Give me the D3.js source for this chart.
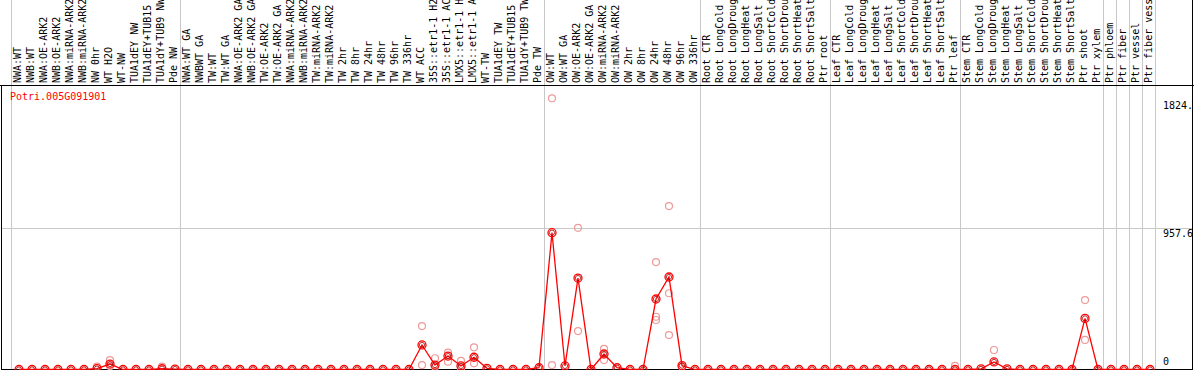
<!doctype html>
<html>
<head>
<meta charset="UTF-8">
<title>Potri.005G091901</title>
<script src="https://d3js.org/d3.v7.min.js"></script>
<style>
body{margin:0;background:#fff;}
svg{display:block;}
text{font-family:"DejaVu Sans Mono",monospace;font-size:10px;}
</style>
</head>
<body>
<script>
var geneName = "Potri.005G091901";

var categories = [
  "NWA:WT","NWB:WT","NWA:OE-ARK2","NWB:OE-ARK2","NWA:miRNA-ARK2","NWB:miRNA-ARK2","NW 0hr","WT H2O","WT-NW",
  "TUA1dEY NW","TUA1dEY+TUB15 NW","TUA1dY+TUB9 NW","Pde NW",
  "NWA:WT GA","NWBWT GA","TW:WT","TW:WT GA","NWA:OE-ARK2 GA","NWB:OE-ARK2 GA","TW:OE-ARK2","TW:OE-ARK2 GA",
  "NWA:miRNA-ARK2","NWB:miRNA-ARK2","TW:miRNA-ARK2","TW:miRNA-ARK2","TW 2hr","TW 8hr","TW 24hr","TW 48hr",
  "TW 96hr","TW 336hr","WT ACC","35S::etr1-1 H2O","35S::etr1-1 ACC","LMX5::etr1-1 H2O","LMX5::etr1-1 ACC",
  "WT-TW","TUA1dEY TW","TUA1dEY+TUB15 TW","TUA1dY+TUB9 TW","Pde TW",
  "OW:WT","OW:WT GA","OW:OE-ARK2","OW:OE-ARK2 GA","OW:miRNA-ARK2","OW:miRNA-ARK2","OW 2hr","OW 8hr",
  "OW 24hr","OW 48hr","OW 96hr","OW 336hr",
  "Root CTR","Root LongCold","Root LongDrought","Root LongHeat","Root LongSalt","Root ShortCold",
  "Root ShortDrought","Root ShortHeat","Root ShortSalt","Ptr root",
  "Leaf CTR","Leaf LongCold","Leaf LongDrought","Leaf LongHeat","Leaf LongSalt","Leaf ShortCold",
  "Leaf ShortDrought","Leaf ShortHeat","Leaf ShortSalt","Ptr leaf",
  "Stem CTR","Stem LongCold","Stem LongDrought","Stem LongHeat","Stem LongSalt","Stem ShortCold",
  "Stem ShortDrought","Stem ShortHeat","Stem ShortSalt","Ptr shoot","Ptr xylem",
  "Ptr phloem","Ptr fiber","Ptr vessel","Ptr fiber vessel"
];

// mean expression per sample
var expression = [
  0, 0, 0, 0, 0, 0, 6, 37, 0, 0, 0, 5, 3,
  0, 0, 0, 0, 0, 0, 0, 0, 0, 0, 0, 0, 0, 0, 0, 0, 0, 0,
  166, 30, 91, 24, 83, 8, 0, 0, 0, 12,
  926, 24, 619, 0, 105, 12, 0, 0, 477, 626, 26, 0,
  0, 0, 0, 0, 0, 0, 0, 0, 0, 0,
  0, 0, 0, 0, 0, 0, 0, 0, 0, 0,
  0, 4, 51, 4, 0, 0, 0, 0, 0, 346, 0,
  0, 0, 0, 0
];

// replicate values (sample index -> values)
var repIndex  = [6, 7, 11, 31, 32, 33, 34, 35, 41, 43, 45, 49, 50, 51, 72, 75, 82];
var repValues = [
  [20], [64, 24], [20], [294, 30], [76, 20], [114, 53], [58, 10], [150, 42],
  [1835, 30], [959, 260], [139, 64], [727, 357, 335], [1106, 516, 233], [20], [24], [132], [470, 200]
];

var yTicks = [0, 957.6, 1824];
var yTickLabels = ["0", "957.6", "1824."];

// index of first sample in each block (last = end)
var groupStarts = [0, 13, 41, 53, 63, 73, 84, 85, 86, 87, 88];

var w = 1194;
var h = 370;
var headerH = 85;

var svg = d3.select("body").append("svg")
  .attr("width", w)
  .attr("height", h);

var x = d3.scaleBand()
  .domain(d3.range(categories.length))
  .range([11, 1155]);

var y = d3.scaleLinear()
  .domain([0, 1824])
  .range([369.5, 100]);

function px(i){ return x(i) + 8; }

// block separators
svg.selectAll("line.grp")
  .data(groupStarts)
  .enter().append("line")
  .attr("class", "grp")
  .attr("x1", function(d){ return d < categories.length ? x(d) + 0.5 : x.range()[1] + 0.5; })
  .attr("x2", function(d){ return d < categories.length ? x(d) + 0.5 : x.range()[1] + 0.5; })
  .attr("y1", 0)
  .attr("y2", h)
  .attr("stroke", "#c8c8c8")
  .attr("stroke-width", 1);

// horizontal gridline at middle tick
svg.selectAll("line.hgrid")
  .data(yTicks.filter(function(d){ return d > 0 && d < 1824; }))
  .enter().append("line")
  .attr("class", "hgrid")
  .attr("x1", 1)
  .attr("x2", w - 1)
  .attr("y1", function(d){ return Math.round(y(d)) + 0.5; })
  .attr("y2", function(d){ return Math.round(y(d)) + 0.5; })
  .attr("stroke", "#c8c8c8")
  .attr("stroke-width", 1);

// frame
svg.append("line").attr("x1", 0).attr("x2", w).attr("y1", headerH + 0.5).attr("y2", headerH + 0.5)
  .attr("stroke", "#000").attr("stroke-width", 1);
svg.append("line").attr("x1", 1.5).attr("x2", 1.5).attr("y1", headerH).attr("y2", h)
  .attr("stroke", "#000").attr("stroke-width", 1);
svg.append("line").attr("x1", w - 1.5).attr("x2", w - 1.5).attr("y1", 0).attr("y2", h)
  .attr("stroke", "#000").attr("stroke-width", 1);
svg.append("line").attr("x1", 1).attr("x2", w - 1).attr("y1", 369.5).attr("y2", 369.5)
  .attr("stroke", "#000").attr("stroke-width", 1);

// sample labels
svg.selectAll("text.lab")
  .data(categories)
  .enter().append("text")
  .attr("class", "lab")
  .attr("transform", function(d, i){ return "translate(" + (x(i) + 9.5) + "," + (headerH - 2) + ") rotate(-90)"; })
  .attr("fill", "#000")
  .text(function(d){ return d; });

// y labels
svg.selectAll("text.ylab")
  .data(yTicks)
  .enter().append("text")
  .attr("class", "ylab")
  .attr("x", 1163)
  .attr("y", function(d, i){ return i == 0 ? y(d) - 4.5 : y(d) + 9; })
  .attr("fill", "#000")
  .text(function(d, i){ return yTickLabels[i]; });

// gene name
svg.append("text")
  .attr("x", 10)
  .attr("y", 100)
  .attr("fill", "#ff0000")
  .text(geneName);

// replicates
var reps = [];
repIndex.forEach(function(idx, k){
  repValues[k].forEach(function(v){ reps.push({i: idx, v: v}); });
});
svg.selectAll("circle.rep")
  .data(reps)
  .enter().append("circle")
  .attr("class", "rep")
  .attr("cx", function(d){ return px(d.i); })
  .attr("cy", function(d){ return y(d.v); })
  .attr("r", 3.5)
  .attr("fill", "none")
  .attr("stroke", "#ee9a9a")
  .attr("stroke-width", 1.2);

// mean line
var line = d3.line()
  .x(function(d, i){ return px(i); })
  .y(function(d){ return y(d); });

svg.append("path")
  .datum(expression)
  .attr("d", line)
  .attr("fill", "none")
  .attr("stroke", "#ff0000")
  .attr("stroke-width", 1.3);

svg.selectAll("circle.mean")
  .data(expression)
  .enter().append("circle")
  .attr("class", "mean")
  .attr("cx", function(d, i){ return px(i); })
  .attr("cy", function(d){ return y(d); })
  .attr("r", 4)
  .attr("fill", "none")
  .attr("stroke", "#ff0000")
  .attr("stroke-width", 1.3);

svg.selectAll("circle.meanin")
  .data(expression)
  .enter().append("circle")
  .attr("class", "meanin")
  .attr("cx", function(d, i){ return px(i); })
  .attr("cy", function(d){ return y(d); })
  .attr("r", 2.6)
  .attr("fill", "none")
  .attr("stroke", "#a00000")
  .attr("stroke-width", 0.8);
</script>
</body>
</html>
